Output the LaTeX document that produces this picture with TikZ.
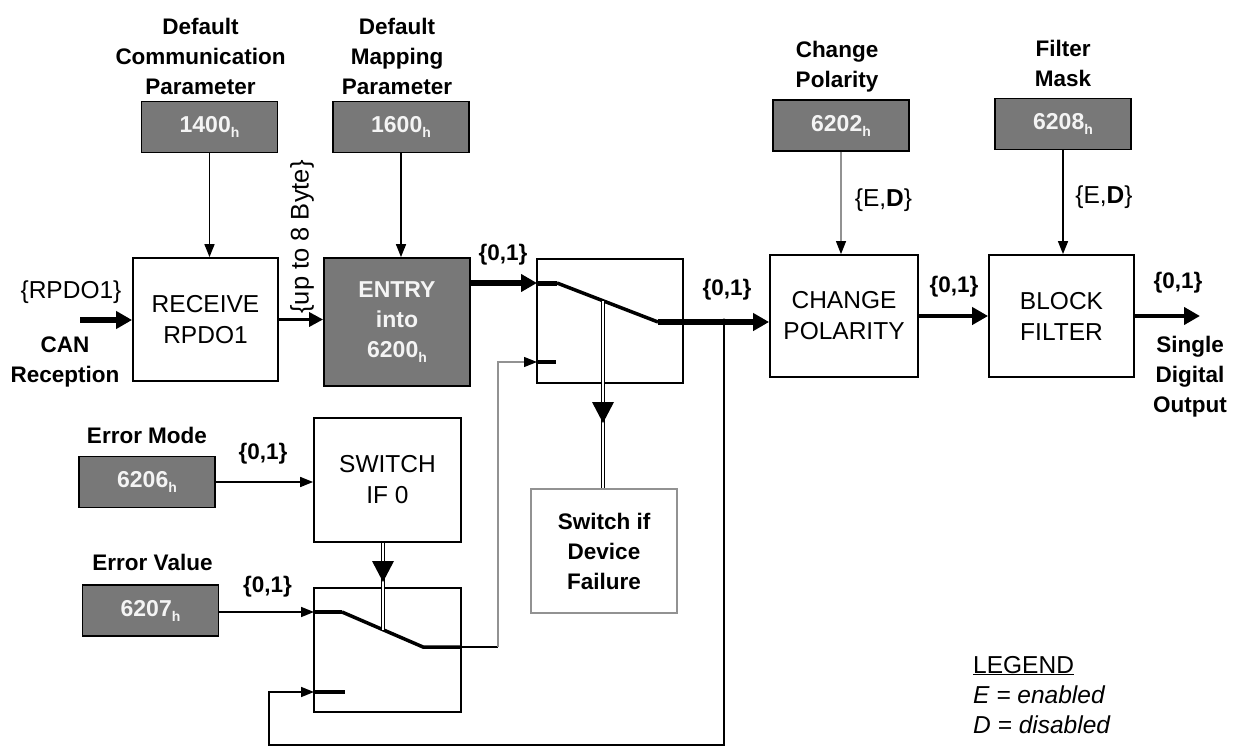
\documentclass[tikz,border=0pt]{standalone}
\usepackage{fontspec}
\setmainfont{Liberation Sans}
\usetikzlibrary{arrows.meta,positioning}

\definecolor{objfill}{HTML}{787878}
\definecolor{objtext}{HTML}{F4F4F4}
\definecolor{greyline}{HTML}{929292}

% subscript h of the object indices
\newcommand{\hx}{\raisebox{-5pt}{\fontsize{14}{14}\selectfont h}}

\tikzset{
  fnblock/.style={draw, line width=1.8pt, minimum width=146pt, minimum height=124pt,
                  inner sep=0pt, align=center, font=\fontsize{24.5}{31}\selectfont},
  objbox/.style={draw, line width=1.8pt, fill=objfill, text=objtext, minimum width=136pt,
                 minimum height=51pt, inner sep=0pt, font=\fontsize{23}{30}\selectfont\bfseries},
  caption/.style={align=center, inner sep=0pt, font=\fontsize{22.5}{30}\selectfont\bfseries},
  sigtxt/.style={inner sep=0pt, font=\fontsize{22.5}{30}\selectfont\bfseries},
  txt/.style={inner sep=0pt, font=\fontsize{24.5}{30}\selectfont},
  wire/.style={line width=1.6pt},
  greywire/.style={line width=1.2pt, draw=greyline, -{Triangle[width=10pt,length=13pt,color=black]}},
  fattip/.style={-{Triangle[width=17pt,length=16pt]}},
  midtip/.style={-{Triangle[width=14pt,length=14pt]}},
  dbl/.style={double, double distance=2.5pt, line width=1pt}
}

\begin{document}
\begin{tikzpicture}[x=1pt, y=-1pt, >={Triangle[width=10pt,length=13pt]}]
	\useasboundingbox (0,0) rectangle (1234,746);

	% Object boxes {1400, 1600, 6202, 6208, 6206, 6207}
	\node [objbox] (o1400) at (209.5,127)   {1400\hx};
	\node [objbox] (o1600) at (401,127)     {1600\hx};
	\node [objbox] (o6202) at (841,125.5)   {6202\hx};
	\node [objbox] (o6208) at (1063,124)    {6208\hx};
	\node [objbox] (o6206) at (147,482)     {6206\hx};
	\node [objbox] (o6207) at (150.5,610.5) {6207\hx};

	% Captions
	\node [caption] (c1400) [above=6pt of o1400, xshift=-9pt] {Default\\Communication\\Parameter};
	\node [caption] (c1600) [above=6pt of o1600, xshift=-4pt] {Default\\Mapping\\Parameter};
	\node [caption] (c6202) [above=7pt of o6202, xshift=-4pt] {Change\\Polarity};
	\node [caption] (c6208) [above=11pt of o6208]             {Filter\\Mask};
	\node [caption] (c6206) [above=12pt of o6206]             {Error Mode};
	\node [caption] (c6207) [above=13pt of o6207, xshift=2pt] {Error Value};

	% Function blocks
	\node [fnblock] (receive) at (205.5,319.5) [minimum width=145pt, minimum height=123pt] {RECEIVE\\RPDO1};
	\node [fnblock, fill=objfill, text=objtext, font=\fontsize{23}{30}\selectfont\bfseries]
	      (entry) at (397,322) [minimum height=128pt] {ENTRY\\into\\6200\hx};
	\node [fnblock] (sw1)     at (610,321)    {};
	\node [fnblock] (change)  at (844,316)    [minimum width=148pt, minimum height=122pt] {CHANGE\\POLARITY};
	\node [fnblock] (block)   at (1061.5,316) [minimum width=145pt, minimum height=122pt] {BLOCK\\FILTER};
	\node [fnblock] (switch0) at (387.5,480)  [minimum width=147pt] {SWITCH\\IF 0};
	\node [fnblock] (sw2)     at (387.5,650)  [minimum width=147pt] {};
	\node [fnblock, draw=greyline, line width=1.3pt, font=\fontsize{22.5}{30}\selectfont\bfseries]
	      (fail) at (604,551) {Switch if\\Device\\Failure};

	% Signal texts
	\node [txt]    (rpdo) at (71,292)    {\{RPDO1\}};
	\node [caption](can)  at (65,362)    {CAN\\Reception};
	\node [txt, rotate=90, font=\fontsize{25.5}{30}\selectfont] (bytes) at (302,237) {\{up to 8 Byte\}};
	\node [sigtxt] (v1) at (503,255)     {\{0,1\}};
	\node [sigtxt] (v2) at (727,290)     {\{0,1\}};
	\node [sigtxt] (v3) at (954,287)     {\{0,1\}};
	\node [sigtxt] (v4) at (1178,283)    {\{0,1\}};
	\node [sigtxt] (v5) at (263,454)     {\{0,1\}};
	\node [sigtxt] (v6) at (267.5,587)   {\{0,1\}};
	\node [txt]    (ed1) at (883.5,200)  {\{E,\textbf{D}\}};
	\node [txt]    (ed2) at (1104,197)   {\{E,\textbf{D}\}};
	\node [caption](out) at (1190,377)   {Single\\Digital\\Output};

	% Legend
	\node [txt, anchor=base west] (legend) at (973,673) {\underline{LEGEND}};
	\node [txt, anchor=base west, font=\fontsize{24.5}{30}\selectfont\itshape] (lgE) at (973,703) {E = enabled};
	\node [txt, anchor=base west, font=\fontsize{24.5}{30}\selectfont\itshape] (lgD) at (973,733) {D = disabled};

	% Switch contacts
	\coordinate (canin)  at (80,320);
	\coordinate (sw1in)  at (537,283);
	\coordinate (sw1a)   at (557,283);
	\coordinate (sw1b)   at (658,322);
	\coordinate (sw1lo)  at (537,362);
	\coordinate (sw1loe) at (556,362);
	\coordinate (piv1)   at (603,301);
	\coordinate (head1)  at (603,423);
	\coordinate (tap)    at (724,322);
	\coordinate (sw2in)  at (314,612);
	\coordinate (sw2a)   at (342,612);
	\coordinate (sw2b)   at (423,647);
	\coordinate (sw2c)   at (461,647);
	\coordinate (bend)   at (498,647);
	\coordinate (sw2lo)  at (314,692);
	\coordinate (sw2loe) at (345,692);
	\coordinate (piv2)   at (383,630);
	\coordinate (head2)  at (383,582);
	\coordinate (fb)     at (269,745);
	\coordinate (outend) at (1200,316);

	% Paths
	\draw [->, wire] (o1400.south) -- (o1400.south |- receive.north);
	\draw [->, wire] (o1600.south) -- (o1600.south |- entry.north);
	\draw [greywire] (o6202.south) -- (o6202.south |- change.north);
	\draw [->, wire] (o6208.south) -- (o6208.south |- block.north);
	\draw [->, wire] (o6206.east)  -- (o6206.east -| switch0.west);
	\draw [->, wire] (o6207.east |- sw2in) -- (sw2in);

	\draw [fattip, line width=5.5pt] (canin) -- (canin -| receive.west);
	\draw [midtip, line width=3.2pt] (receive.east) -- (receive.east -| entry.west);
	\draw [fattip, line width=5.5pt] (entry.east |- sw1in) -- (sw1in);
	\draw [fattip, line width=5.5pt] (sw1b) -- (sw1b -| change.west);
	\draw [fattip, line width=4.5pt] (change.east) -- (block.west);
	\draw [fattip, line width=4pt]   (block.east) -- (outend);

	% contacts inside the switches
	\draw [line width=5pt]   (sw1in) -- (sw1a);
	\draw [line width=3.5pt] (sw1a) -- (sw1b);
	\draw [line width=4pt]   (sw1lo) -- (sw1loe);
	\draw [line width=4pt]   (sw2in) -- (sw2a);
	\draw [line width=3.5pt] (sw2a) -- (sw2b) -- (sw2c);
	\draw [line width=4pt]   (sw2lo) -- (sw2loe);

	% control lines
	\draw [dbl] (piv1) -- (piv1 |- fail.north);
	\fill (head1) -- ++(-11,-21) -- ++(22,0) -- cycle;
	\draw [dbl] (piv2 |- switch0.south) -- (piv2);
	\fill (head2) -- ++(-11,-21) -- ++(22,0) -- cycle;

	% feedback and fallback
	\fill (tap) circle (3.5pt);
	\draw [->, wire] (tap) -- (tap |- fb) -- (fb) -- (fb |- sw2lo) -- (sw2lo);
	\draw [line width=1.2pt] (sw2c) -- (bend);
	\draw [greywire] (bend) -- (bend |- sw1lo) -- (sw1lo);
\end{tikzpicture}
\end{document}
